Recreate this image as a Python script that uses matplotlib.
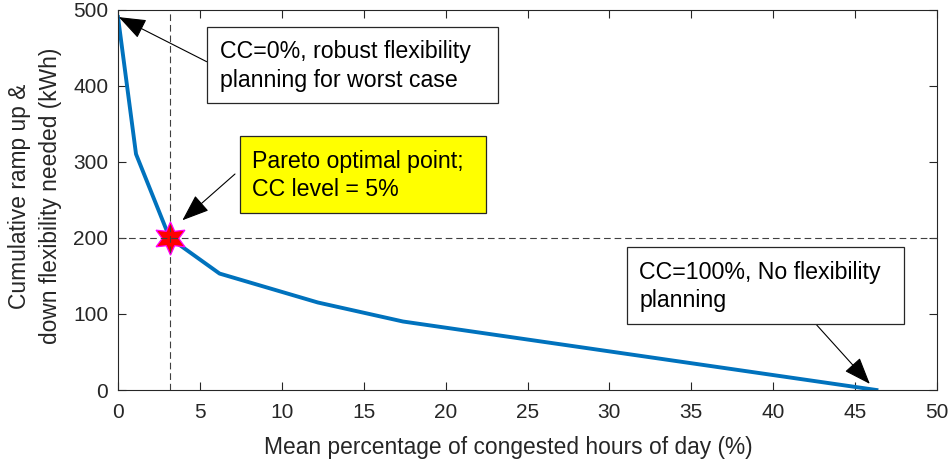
import matplotlib
matplotlib.use("Agg")
import matplotlib.pyplot as plt
from matplotlib.patches import Rectangle

plt.rcParams['font.family'] = ['Liberation Sans', 'DejaVu Sans']

# curve
congested_pct = [0, 1.1, 3.15, 6.2, 12.2, 17.4, 46.3]
flex_kwh = [490, 310, 200, 153, 115, 90, 0]

pareto_x = 3.15
pareto_y = 200

xticks = [0, 5, 10, 15, 20, 25, 30, 35, 40, 45, 50]
yticks = [0, 100, 200, 300, 400, 500]

notes = ['CC=0%, robust flexibility\nplanning for worst case',
         'Pareto optimal point;\nCC level = 5%',
         'CC=100%, No flexibility\nplanning']
note_targets = [(0.05, 490), (3.93, 223), (45.9, 8)]

W, H = 953, 466
dark = '#262626'


def fx(px):
    return px / W


def fy(py):
    return 1 - py / H


fig = plt.figure(figsize=(9.53, 4.66), dpi=100)
ax = fig.add_axes([fx(118), fy(390), fx(937) - fx(118), fy(9.5) - fy(390)])

ax.plot(congested_pct, flex_kwh, color='#0072BD', lw=2.8, zorder=2)
ax.plot([pareto_x], [pareto_y], marker=(6, 1, 0), ms=24, color='red',
        mec='magenta', mew=0.9, zorder=3)
ax.axvline(pareto_x, color='#404040', ls=(0, (6, 3.5)), lw=0.8, zorder=4)
ax.axhline(pareto_y, color='#404040', ls=(0, (6, 3.5)), lw=0.8, zorder=4)

ax.set_xlim(0, 50)
ax.set_ylim(0, 500)
ax.set_xticks(xticks)
ax.set_yticks(yticks)
ax.tick_params(direction='in', top=True, right=True, length=6, width=0.8,
               labelsize=15, colors=dark)
ax.tick_params(axis='x', pad=9)
ax.tick_params(axis='y', pad=7)
for s in ax.spines.values():
    s.set_color(dark)
    s.set_linewidth(0.8)

ax.set_xlabel('Mean percentage of congested hours of day (%)', fontsize=16.4, color=dark)
ax.xaxis.set_label_coords(0.476, -0.122)
ax.set_ylabel('Cumulative ramp up &\ndown flexibility needed (kWh)', fontsize=16.4,
              color=dark, linespacing=1.45)
ax.yaxis.set_label_coords(-0.068, 0.51)

# text boxes (pixel frames) and their arrows
boxes = [(207, 27, 498, 103, 'white'),
         (240, 136, 486, 213, 'yellow'),
         (627, 247, 904, 324, 'white')]
text_left = [220, 251.7, 639.3]
arrow_from = [(206.7, 61.7), (235, 174), (816.7, 325)]

for i, (l, t, r, b, fc) in enumerate(boxes):
    fig.patches.append(Rectangle((fx(l), fy(b)), fx(r) - fx(l), fy(t) - fy(b),
                                 transform=fig.transFigure, fc=fc, ec=dark,
                                 lw=0.9, zorder=5))
    fig.text(fx(text_left[i]), fy((t + b) / 2 + 1), notes[i], fontsize=16.7,
             ha='left', va='center', linespacing=1.33, color='black', zorder=6)
    ax.annotate('', xy=note_targets[i],
                xytext=(fx(arrow_from[i][0]), fy(arrow_from[i][1])),
                textcoords='figure fraction', annotation_clip=False,
                arrowprops=dict(arrowstyle='-|>,head_length=0.85,head_width=0.32',
                                color='black', lw=0.8, mutation_scale=20,
                                shrinkA=0, shrinkB=0))

fig.savefig('out.png', dpi=100)
